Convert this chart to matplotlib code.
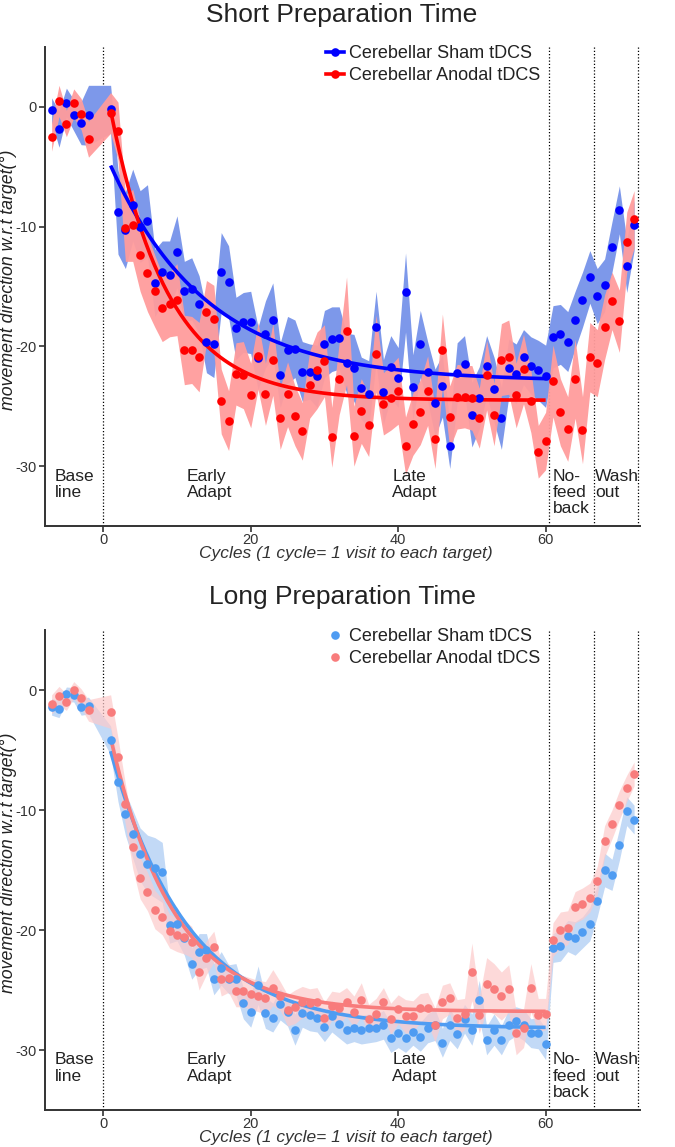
import numpy as np
import matplotlib
matplotlib.use("Agg")
import matplotlib.pyplot as plt
from matplotlib.lines import Line2D

plt.rcParams['font.family'] = ['Liberation Sans', 'DejaVu Sans']
plt.rcParams['axes.unicode_minus'] = False

# ---------------- data ----------------
cycles = list(range(-7, -1)) + list(range(1, 73))

short_sham = [-0.25, -1.87, 0.36, -0.70, -1.36, -0.70,
              -0.2, -8.8, -10.3, -8.2, -10.0, -9.5, -14.7, -13.8, -14.0, -12.1,
              -15.4, -15.2, -16.5, -19.6, -19.8, -13.8, -14.6, -18.5, -18.0, -18.0,
              -21.0, -19.0, -17.8, -22.4, -20.3, -20.2, -22.1, -22.1, -22.5, -19.8,
              -19.4, -19.3, -21.4, -21.8, -23.5, -24.0, -18.4, -23.8, -21.7, -22.6,
              -15.5, -23.4, -19.8, -22.1, -24.7, -23.3, -28.3, -22.2, -21.5, -25.7,
              -24.3, -21.6, -23.6, -26.0, -21.8, -22.3, -20.9, -21.6, -22.0, -22.5,
              -19.2, -19.0, -19.6, -17.8, -16.1, -14.2,
              -15.8, -14.9, -11.7, -8.6, -13.3, -9.9]
short_sham_sem = [1.0, 1.5, 1.2, 1.3, 1.8, 2.5,
                  2.0, 3.5, 3.2, 3.0, 3.0, 3.0, 2.8, 2.6, 2.8, 3.0,
                  2.5, 2.6, 2.4, 2.6, 2.8, 3.3, 3.0, 2.6, 2.5, 2.6,
                  2.6, 2.8, 3.1, 2.7, 2.8, 2.4, 2.5, 2.3, 2.6, 2.8,
                  2.7, 2.6, 2.5, 2.8, 2.6, 2.8, 3.0, 2.7, 2.6, 2.5,
                  3.3, 2.7, 2.8, 2.5, 2.8, 2.6, 1.9, 2.5, 2.4, 2.7,
                  2.6, 2.5, 2.7, 2.6, 2.4, 2.5, 2.3, 2.4, 2.5, 2.6,
                  2.6, 2.5, 2.5, 2.4, 2.3, 2.2,
                  2.3, 2.2, 2.1, 2.0, 2.2, 2.1]
short_anodal = [-2.5, 0.5, -1.39, 0.3, -0.6, -2.7,
                -0.5, -2.0, -10.1, -9.9, -12.4, -13.9, -15.4, -16.8, -16.5, -16.1,
                -20.3, -20.3, -20.9, -17.1, -17.7, -24.6, -26.2, -22.3, -22.4, -24.1,
                -20.8, -24.0, -21.1, -26.0, -24.0, -25.8, -27.1, -23.2, -22.0, -21.2,
                -27.6, -22.7, -18.7, -27.5, -25.4, -26.6, -20.6, -24.8, -24.3, -23.7,
                -28.3, -26.5, -25.5, -23.7, -27.7, -20.3, -25.9, -24.2, -24.2, -24.3,
                -26.0, -22.4, -25.7, -21.1, -20.9, -24.1, -21.9, -24.6, -28.8, -27.9,
                -22.9, -25.5, -26.9, -22.7, -27.0, -20.9,
                -21.4, -18.4, -16.2, -17.9, -11.3, -9.4]
short_anodal_sem = [1.2, 1.3, 1.1, 1.2, 1.3, 1.5,
                    1.7, 2.4, 2.8, 3.0, 3.0, 3.2, 3.0, 2.8, 2.7, 3.0,
                    2.9, 2.8, 2.9, 2.6, 2.8, 2.7, 2.5, 2.6, 2.8, 2.7,
                    2.8, 2.6, 3.0, 2.6, 2.7, 2.5, 2.4, 2.8, 3.2, 3.0,
                    2.5, 3.0, 4.5, 2.5, 2.7, 2.6, 3.2, 2.6, 2.7, 2.8,
                    2.4, 2.6, 2.7, 2.9, 2.5, 3.0, 2.6, 2.7, 2.6, 2.7,
                    2.5, 2.9, 2.6, 3.0, 3.1, 2.7, 2.9, 2.6, 2.2, 2.4,
                    3.0, 2.8, 2.7, 3.3, 2.8, 2.9,
                    2.8, 2.7, 2.4, 2.6, 2.5, 2.4]

long_sham = [-1.4, -1.6, -0.35, -0.4, -1.4, -1.3,
             -4.2, -7.7, -10.3, -12.0, -13.7, -14.5, -14.8, -15.2, -19.6, -19.5,
             -20.7, -22.8, -21.8, -21.7, -24.1, -23.2, -24.1, -24.1, -26.1, -26.8,
             -24.6, -26.9, -27.3, -26.2, -26.8, -28.3, -26.9, -27.1, -27.3, -28.1,
             -27.2, -27.8, -28.3, -28.2, -28.3, -28.2, -28.2, -27.9, -29.0, -28.6,
             -29.0, -28.5, -28.9, -28.2, -27.9, -29.4, -27.9, -28.7, -27.4, -28.3,
             -25.8, -29.2, -28.3, -29.2, -27.9, -27.6, -27.9, -28.6, -28.6, -29.5,
             -21.5, -21.3, -20.5, -20.7, -20.2, -19.5,
             -17.6, -15.0, -15.4, -12.9, -10.1, -10.8]
long_sham_sem = [0.7, 0.7, 0.6, 0.6, 0.7, 0.7,
                 1.2, 1.6, 1.8, 2.0, 2.2, 2.4, 2.5, 2.5, 1.5, 1.4,
                 1.4, 1.3, 1.5, 1.4, 1.3, 1.4, 1.2, 1.3, 1.3, 1.3,
                 1.6, 1.3, 1.2, 1.3, 1.2, 1.3, 1.2, 1.3, 1.2, 1.2,
                 1.3, 1.2, 1.2, 1.1, 1.2, 1.2, 1.1, 1.2, 1.2, 1.2,
                 1.2, 1.1, 1.2, 1.2, 1.3, 1.2, 1.3, 1.2, 1.2, 1.3,
                 1.6, 1.2, 1.3, 1.2, 1.3, 1.2, 1.3, 1.2, 1.3, 1.3,
                 1.2, 1.3, 1.3, 1.4, 1.3, 1.4,
                 1.3, 1.4, 1.3, 1.3, 1.2, 1.2]
long_anodal = [-1.2, -0.5, -1.0, 0.0, -0.7, -1.7,
               -1.8, -5.6, -9.5, -13.1, -15.7, -16.8, -18.3, -18.9, -20.1, -20.4,
               -20.6, -21.0, -23.5, -22.3, -21.4, -24.1, -24.0, -25.1, -25.1, -25.3,
               -25.5, -25.7, -24.8, -25.5, -26.7, -26.4, -26.0, -26.1, -26.0, -27.3,
               -26.3, -26.5, -26.0, -26.8, -25.8, -27.4, -27.0, -26.0, -27.4, -26.6,
               -27.2, -27.2, -26.5, -26.5, -27.9, -26.0, -25.7, -27.3, -27.0, -23.5,
               -27.1, -24.5, -24.9, -25.5, -24.9, -28.6, -28.2, -24.8, -27.1, -27.0,
               -20.8, -20.0, -19.8, -18.1, -17.8, -17.3,
               -15.9, -12.6, -11.2, -9.6, -8.2, -7.0]
long_anodal_sem = [0.8, 0.8, 0.7, 0.7, 0.8, 0.9,
                   1.4, 1.6, 1.7, 1.8, 1.7, 1.6, 1.6, 1.5, 1.4, 1.4,
                   1.4, 1.3, 1.5, 1.4, 1.3, 1.4, 1.2, 1.3, 1.3, 1.3,
                   1.3, 1.4, 1.5, 1.2, 1.3, 1.4, 1.3, 1.2, 1.2, 1.3,
                   1.2, 1.3, 1.2, 1.3, 1.4, 1.2, 1.3, 1.2, 1.3, 1.2,
                   1.4, 1.3, 1.2, 1.3, 1.4, 1.4, 1.3, 1.5, 1.3, 2.4,
                   1.5, 2.2, 2.1, 2.0, 2.0, 1.8, 1.6, 2.0, 1.4, 1.3,
                   1.4, 1.5, 1.4, 1.3, 1.3, 1.2,
                   1.2, 1.3, 1.2, 1.2, 1.1, 1.0]

# exponential fits: asymptote, amplitude, time constant
fit_short_sham = [-22.9, 18.0, 13.2]
fit_short_anodal = [-24.5, 24.2, 7.8]
fit_long_sham = [-28.2, 23.1, 10.5]
fit_long_anodal = [-26.8, 22.8, 8.5]
fit_range = [1, 60]

phase_lines = [0, 60.5, 66.5, 72.5]
phase_labels = ["Base\nline", "Early\nAdapt", "Late\nAdapt", "No-\nfeed\nback", "Wash\nout"]
phase_label_x = [-6.6, 11.3, 39.2, 61.0, 66.7]

legend_labels = ["Cerebellar Sham tDCS", "Cerebellar Anodal tDCS"]
titles = ["Short Preparation Time", "Long Preparation Time"]
xlabel = "Cycles (1 cycle= 1 visit to each target)"
ylabel = "movement direction w.r.t target(°)"

# ---------------- figure ----------------
W, H = 675, 1147
fig = plt.figure(figsize=(W / 100, H / 100), dpi=100)
ax1 = fig.add_axes([45 / W, 1 - 526 / H, 595 / W, 479 / H])
ax2 = fig.add_axes([45 / W, 1 - 1110 / H, 595 / W, 480 / H])

ink = '#333333'


def fitcurve(p):
    xf = np.linspace(fit_range[0], fit_range[1], 200)
    return xf, p[0] + p[1] * np.exp(-(xf - fit_range[0]) / p[2])


def panel(ax, sham, sham_sem, anod, anod_sem, fs, fa, cs, ca, bs, ba, band_alpha, legend_lines):
    x = np.array(cycles)
    s = np.array(sham); ss = np.array(sham_sem)
    a = np.array(anod); sa = np.array(anod_sem)
    ax.fill_between(x, s - ss, s + ss, color=bs, alpha=band_alpha[0], lw=0, zorder=1)
    ax.fill_between(x, a - sa, a + sa, color=ba, alpha=band_alpha[1], lw=0, zorder=2)
    xf, yf = fitcurve(fs)
    ax.plot(xf, yf, color=cs, lw=2.6, zorder=3, solid_capstyle='butt')
    xf, yf = fitcurve(fa)
    ax.plot(xf, yf, color=ca, lw=2.6, zorder=3, solid_capstyle='butt')
    ax.plot(x, s, 'o', color=cs, ms=6.2, mew=0, zorder=4)
    ax.plot(x, a, 'o', color=ca, ms=6.2, mew=0, zorder=4)
    for xv in phase_lines:
        ax.axvline(xv, color='black', lw=0.9, ls=(0, (1, 1.6)), zorder=0.5)
    for lab, xv in zip(phase_labels, phase_label_x):
        ax.text(xv, -30.2, lab, ha='left', va='top', fontsize=12.5, color='#222222',
                linespacing=1.12)
    ax.set_xlim(-7.9, 72.8)
    ax.set_ylim(-35, 5)
    ax.set_yticks([0, -10, -20, -30])
    ax.set_xticks([0, 20, 40, 60])
    for sp in ['top', 'right']:
        ax.spines[sp].set_visible(False)
    for sp in ['left', 'bottom']:
        ax.spines[sp].set_color(ink)
        ax.spines[sp].set_linewidth(1.4)
    ax.tick_params(direction='out', length=4, width=1.2, color=ink, labelcolor=ink,
                   labelsize=10.5, pad=2.0)
    ax.tick_params(axis='x', pad=1.2)
    ax.set_xlabel(xlabel, fontsize=12.5, style='italic', color=ink)
    ax.xaxis.set_label_coords(0.506, -0.041)
    ax.set_ylabel(ylabel, fontsize=12.8, style='italic', color='#222222')
    ax.yaxis.set_label_coords(-0.047, 0.515)
    if legend_lines:
        h = [Line2D([], [], color=cs, marker='o', ms=6.2, mew=0, lw=2.6),
             Line2D([], [], color=ca, marker='o', ms=6.2, mew=0, lw=2.6)]
    else:
        h = [Line2D([], [], color=cs, marker='o', ms=6.2, mew=0, ls='none'),
             Line2D([], [], color=ca, marker='o', ms=6.2, mew=0, ls='none')]
    ax.legend(h, legend_labels, loc='upper left', bbox_to_anchor=(0.472, 1.004),
              frameon=False, fontsize=13, handlelength=1.0, handletextpad=0.3,
              labelspacing=0.27, borderpad=0, borderaxespad=0, labelcolor='#222222')


panel(ax1, short_sham, short_sham_sem, short_anodal, short_anodal_sem,
      fit_short_sham, fit_short_anodal, '#0000ff', '#ff0000', '#7d98ea', '#ff9c9c',
      (1.0, 0.95), True)
panel(ax2, long_sham, long_sham_sem, long_anodal, long_anodal_sem,
      fit_long_sham, fit_long_anodal, '#4f9cf2', '#f87c7c', '#c2d9f6', '#fdcaca',
      (1.0, 0.7), False)

fig.text(342 / W, 1 - 15 / H, titles[0], ha='center', va='center', fontsize=19, color='#222222')
fig.text(342 / W, 1 - 597 / H, titles[1], ha='center', va='center', fontsize=19, color='#222222')

fig.savefig('out.png', dpi=100)
